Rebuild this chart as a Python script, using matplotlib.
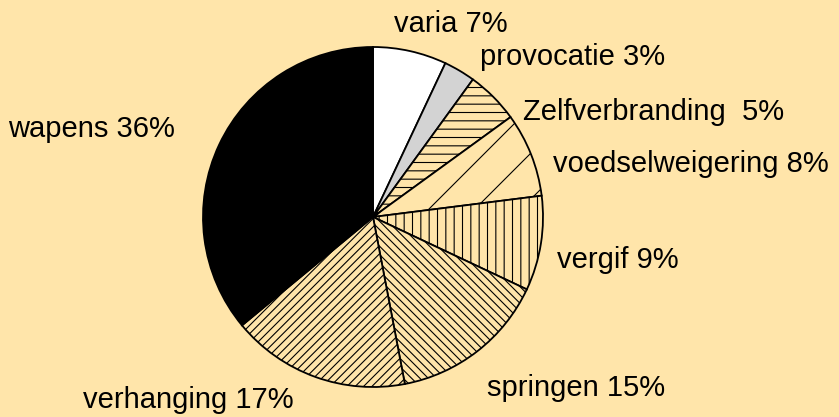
import numpy as np
import matplotlib
matplotlib.use("Agg")
import matplotlib.pyplot as plt

# slices, clockwise from the top
categorieen = ["varia", "provocatie", "Zelfverbranding", "voedselweigering",
               "vergif", "springen", "verhanging", "wapens"]
percentages = [7, 3, 5, 8, 9, 15, 17, 36]
labels = ["varia 7%", "provocatie 3%", "Zelfverbranding  5%", "voedselweigering 8%",
          "vergif 9%", "springen 15%", "verhanging 17%", "wapens 36%"]

bg = "#FFE5AA"
kleuren = ["white", "#D3D3D3", bg, bg, bg, bg, bg, "black"]
arceringen = [None, None, "--", None, "||", "\\\\\\\\", "////", None]

# label anchor points in pixels (left edge, baseline, y measured from top)
label_xy = [(394, 32), (480, 65), (523, 120), (553, 172),
            (557, 268), (487, 396), (83, 408), (8, 137)]

W, H = 839, 417
plt.rcParams["hatch.linewidth"] = 0.8

fig = plt.figure(figsize=(W / 100, H / 100), dpi=100)
fig.patch.set_facecolor(bg)
ax = fig.add_axes([0, 0, 1, 1])
ax.set_facecolor(bg)

centrum = (373, H - 217)
straal = 170

wedges, _ = ax.pie(percentages, colors=kleuren, startangle=90, counterclock=False,
                   center=centrum, radius=straal,
                   wedgeprops=dict(edgecolor="black", linewidth=1.3))

for w, h in zip(wedges, arceringen):
    if h:
        w.set_hatch(h)

# wide "/" hatch for voedselweigering (too sparse for the standard hatch)
stap = 46
for k in range(-10, 11):
    b = centrum[1] - centrum[0] - 48 + k * stap
    xs = np.array([centrum[0] - straal - 50, centrum[0] + straal + 50])
    lijn, = ax.plot(xs, xs + b, color="black", lw=0.8)
    lijn.set_clip_path(wedges[3])

for (x, y), txt in zip(label_xy, labels):
    ax.text(x, H - y, txt, ha="left", va="baseline", fontsize=21,
            family="Liberation Sans", color="black")

ax.set_xlim(0, W)
ax.set_ylim(0, H)
ax.set_aspect("equal")
ax.axis("off")

plt.savefig("out.png", dpi=100, facecolor=bg)
